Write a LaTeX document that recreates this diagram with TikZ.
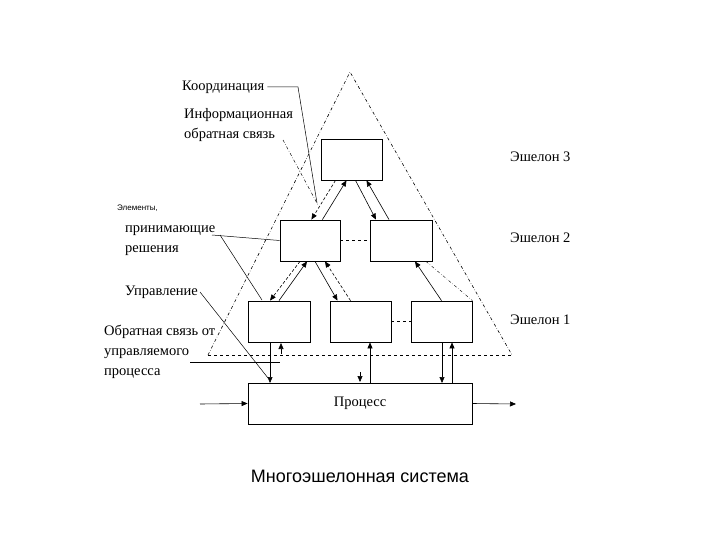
\documentclass[tikz,border=0pt]{standalone}
\usepackage{fontspec}
\setmainfont{Liberation Serif}
\newfontfamily\sansf{Liberation Sans}
\usetikzlibrary{arrows.meta}
\begin{document}
\begin{tikzpicture}[x=1pt,y=-1pt,
  box/.style={draw,line width=0.8pt},
  arr/.style={-{Triangle[length=6pt,width=5pt]},line width=0.6pt},
  darr/.style={arr,densely dashed},
  lbl/.style={anchor=west,inner sep=0pt,font=\fontsize{14.5}{20}\selectfont},
  lead/.style={line width=0.5pt},
  tri/.style={dash dot,line width=0.6pt}]
\path[use as bounding box] (0,0) rectangle (720,540);
% triangle
\coordinate (apex) at (350,72);
\coordinate (bl) at (208,355);
\coordinate (br) at (512,355);
\draw[tri] (bl) -- (apex) -- (br);
\draw[dashed,line width=0.6pt] (bl) -- (br);
% boxes
\node[box,minimum width=61pt,minimum height=41pt,inner sep=0pt] (b3) at (351.5,159.5) {};
\node[box,minimum width=60pt,minimum height=41pt,inner sep=0pt] (b2a) at (310,240.5) {};
\node[box,minimum width=62pt,minimum height=41pt,inner sep=0pt] (b2b) at (401,240.5) {};
\node[box,minimum width=62pt,minimum height=41pt,inner sep=0pt] (b1a) at (279,321.5) {};
\node[box,minimum width=61pt,minimum height=41pt,inner sep=0pt] (b1b) at (360.5,321.5) {};
\node[box,minimum width=61pt,minimum height=41pt,inner sep=0pt] (b1c) at (441.5,321.5) {};
\node[box,minimum width=224pt,minimum height=41pt,inner sep=0pt,font=\fontsize{14.5}{16}\selectfont] (pr) at (360,403.5) {Процесс};
\draw[dashed] (b2a.east) -- (b2b.west);
\draw[dashed,line width=0.8pt] (b1b.east) -- (b1c.west);
% arrows B3-B2
\draw[darr] ([xshift=-16pt]b3.south) -- ([xshift=-29pt]b2a.north east);
\draw[arr] ([xshift=-18pt]b2a.north east) -- ([xshift=-5pt]b3.south);
\draw[arr] ([xshift=4pt]b3.south) -- ([xshift=-25pt]b2b.north);
\draw[arr] ([xshift=-12pt]b2b.north) -- ([xshift=15pt]b3.south);
% arrows B2a-B1
\draw[darr] ([xshift=-10pt]b2a.south) -- ([xshift=-9pt]b1a.north);
\draw[arr] (b1a.north) -- ([xshift=-3pt]b2a.south);
\draw[arr] ([xshift=5pt]b2a.south) -- ([xshift=-23pt]b1b.north);
\draw[darr] ([xshift=-10pt]b1b.north) -- ([xshift=15pt]b2a.south);
% B2b-B1c
\draw[arr] (b1c.north) -- ([xshift=14pt]b2b.south);
\draw[dash dot] ([xshift=25pt]b2b.south) -- (b1c.north east);
% vertical
\coordinate (v1) at (270,383);
\draw[arr] ([xshift=-9pt]b1a.south) -- (v1);
\coordinate (u1) at (281,354);
\draw[arr] (u1) -- (281,343);
\coordinate (v2) at (370,383);
\draw[arr] (v2) -- ([xshift=9.5pt]b1b.south);
\coordinate (s2) at (360,372);
\draw[arr] (s2) -- (360,382);
\coordinate (v3a) at (442,383);
\draw[arr] ([xshift=0.5pt]b1c.south) -- (v3a);
\coordinate (v3) at (452,383);
\draw[arr] (v3) -- ([xshift=10.5pt]b1c.south);
% in/out
\coordinate (in) at (200,404);
\coordinate (out) at (516,404);
\draw[arr] (in) -- (pr.west);
\draw[arr] (pr.east) -- (out);
% labels
\node[lbl] (l1) at (182,87) {Координация};
\draw[lead] (l1.east) ++(3,0) -- (298,87) -- (317,203);
\node[lbl,align=left] (l2) at (184,125) {Информационная\\обратная связь};
\draw[lead,dash dot] (283,140) -- (318,205);
\node[anchor=west,inner sep=0pt,font=\sansf\fontsize{8}{9}\selectfont] (l3) at (117,208) {Элементы,};
\node[lbl,align=left] (l4) at (125,241) {принимающие\\решения};
\draw[lead] (212,235) -- (b2a.west);
\draw[lead] (220,235) -- (262,300);
\node[lbl] (l5) at (125,292) {Управление};
\draw[lead] (200,292) -- (268,378);
\node[lbl,align=left] (l6) at (104,352) {Обратная связь от\\управляемого\\процесса};
\draw[lead] (190,362) -- (280,362);
\node[lbl] (e3) at (510,157) {Эшелон 3};
\node[lbl] (e2) at (510,238) {Эшелон 2};
\node[lbl] (e1) at (510,320) {Эшелон 1};
\node[font=\sansf\fontsize{18}{20}\selectfont] (cap) at (360,476) {Многоэшелонная система};
\end{tikzpicture}
\end{document}
